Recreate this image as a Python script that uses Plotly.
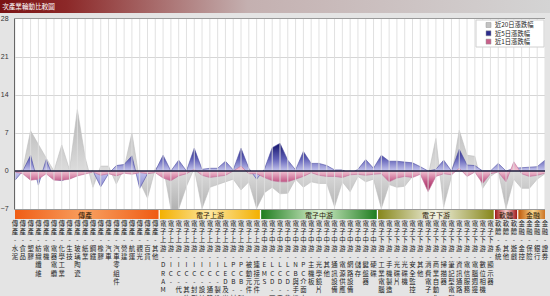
import plotly.graph_objects as go

# ---------------- data ----------------
group_names = ['傳產', '電子上游', '電子中游', '電子下游', '軟體', '金融']
sub_trad = ['水泥', '食品', '塑膠', '紡織纖維', '電機', '電器電纜', '化學工業', '生技', '玻璃陶瓷', '紙業',
            '鋼鐵', '橡膠', '汽車', '汽車零組件', '營建', '航運', '觀光', '百貨', '其他']
sub_up = ['DRAM', 'IC-', 'IC-代工', 'IC-其他', 'IC-封測', 'IC-設計', 'IC-通路', 'IC-製造',
          'LED及光元件', 'PCB-材料', 'PCB-製造', '被動元件', '連接元件']
sub_mid = ['EMS', 'LCD-面板', 'LCD-零組件', 'LCD-背光', 'NB與手機', 'PC介面卡', '主機板', '光學鏡片',
           '其他', '通訊設備', '電源供應', '網路設備', '儲存', '鍵盤器', '硬碟']
sub_down = ['工業電腦', '手機製造', '光碟片', '光碟機', '安全監控', '其他', '消費電子', '商業自動化',
            '掃描器', '筆記型電腦', '資訊通路', '電信服務', '電腦週邊', '數位相機', '顯示器']
sub_soft = ['系統', '其他', '遊戲']
sub_fin = ['金控', '保險', '銀行', '證券']
subs = [sub_trad, sub_up, sub_mid, sub_down, sub_soft, sub_fin]

series_names = ['近20日漲跌幅', '近5日漲跌幅', '近1日漲跌幅']

chg20 = [-0.5, 0.3, 7.4, 4.8, 2.4, 0.0, 4.8, 0.2, 11.3, 2.5, -3.0, 0.9, 0.9, -2.4, 0.5, 7.0, -2.0, -5.0, 0.5,
         1.0, -7.0, -7.0, -2.8, 0.5, -6.9, -3.0, -2.5, -2.0, -1.5, -3.5, -2.0, -6.9,
         -4.0, -3.0, -4.2, -4.1, -1.5, -3.0, -2.0, -2.3, -2.3, -6.6, -2.0, -3.8, -1.0, -2.0, -1.5,
         -6.9, -2.5, -3.0, -2.8, -1.0, 0.5, -1.0, 6.0, -6.6, -1.0, 7.5, 2.9, 2.7, -3.2, -1.0,
         0.0, -6.9, -1.5,
         -3.2, -3.2, -1.5, -0.5]
chg5 = [-1.7, 0.0, 2.9, -2.6, 2.1, -1.5, -1.8, -1.2, -0.5, -0.3, 0.0, -2.9, -0.5, 1.0, 1.2, 2.8, -3.2, -0.5, 0.0,
        2.9, 0.0, 2.0, 0.0, 4.2, 0.3, 0.5, 0.5, 1.8, 0.2, 4.2, 0.5, -1.5,
        0.3, 4.3, 5.1, 2.0, 0.2, 3.6, 1.4, 1.4, 1.0, 0.2, 0.2, -0.5, 0.3, 2.1, 0.5,
        2.9, 1.8, 1.8, 1.6, 1.5, 0.8, 0.0, 0.3, 2.0, 0.0, 4.0, 1.1, 1.0, 0.0, 0.0,
        1.4, 0.0, 0.5,
        0.6, 0.6, 0.8, 2.0]
chg1 = [-0.2, -0.5, -1.7, -1.5, -0.5, -1.7, -1.7, -1.5, -0.9, -0.6, -0.2, -0.8, -0.5, -0.9, -0.4, -0.6, -0.3, -0.5, -0.3,
        -1.3, -1.8, -0.9, -0.5, 0.3, -0.8, -1.2, -1.0, -0.8, 0.0, 0.9, -0.5, -0.5,
        -1.2, -1.8, -2.0, -2.0, -1.5, -1.0, -0.3, -0.8, -1.0, -1.0, -1.2, -0.7, -0.6, -0.8, -0.6,
        -0.5, -2.0, -1.3, -1.0, -1.2, -0.6, -3.8, -1.0, -0.5, -0.7, 0.5, -1.0, -0.2, -2.3, -0.5,
        -0.2, -2.0, 1.7,
        -0.5, -1.0, -0.8, -0.4]

y_ticks = [-7, 0, 7, 14, 21, 28]
title_text = '次產業輪動比較圖'

# ---------------- derived ----------------
categories = []
cat_group = []
for g, lst in zip(group_names, subs):
    for s in lst:
        categories.append(g + '-' + s)
        cat_group.append(g)
idx = list(range(len(categories)))
tick_text = ['<br>'.join(list(c)) for c in categories]

W, H = 550, 296
PL, PR, PT, PB = 15, 545, 19, 209
FONT = 'Noto Sans CJK TC'

fig = go.Figure()

# area series
styles = [
    dict(start=-7, stop=12, cs=[[0, '#b2b2b2'], [0.368, '#dcdcdc'], [1, '#b0b0b0']], line='#bdbdbd'),
    dict(start=-5, stop=5, cs=[[0, '#6464c4'], [0.5, '#c6c6ee'], [0.72, '#6262b8'], [1, '#12126a']], line='#4a4aa0'),
    dict(start=-4, stop=2, cs=[[0, '#9a1850'], [0.35, '#c45a88'], [0.667, '#f2c4d4'], [1, '#e08cb0']], line='#c0709a'),
]
for name, vals, st in zip(series_names, [chg20, chg5, chg1], styles):
    fig.add_trace(go.Scatter(
        x=idx, y=vals, name=name, mode='lines', fill='tozeroy',
        line=dict(color=st['line'], width=0.6),
        fillgradient=dict(type='vertical', start=st['start'], stop=st['stop'], colorscale=st['cs']),
        showlegend=False, hoverinfo='x+y'))

# vertical grid lines drawn over the areas
gx, gy = [], []
for i in idx:
    gx += [i, i, None]
    gy += [y_ticks[0], y_ticks[-1], None]
fig.add_trace(go.Scatter(x=gx, y=gy, mode='lines', line=dict(color='rgba(222,222,222,0.9)', width=1),
                         hoverinfo='skip', showlegend=False))

# group bars under the plot
bar_styles = {
    '傳產': ('#ef5a12', '#f8a060'),
    '電子上游': ('#f3b000', '#fde6a0'),
    '電子中游': ('#1f7d1f', '#d6efcc'),
    '電子下游': ('#86861a', '#f2f2e2'),
    '軟體': ('#a01818', '#f2caca'),
    '金融': ('#c05808', '#f8d890'),
}
for g in group_names:
    members = [i for i, cg in zip(idx, cat_group) if cg == g]
    a, b = members[0] - 0.42, members[-1] + 0.42
    edge, mid = bar_styles[g]
    fig.add_trace(go.Scatter(
        x=[a, b, b, a, a], y=[0, 0, 1, 1, 0], xaxis='x', yaxis='y2', mode='lines', fill='toself',
        line=dict(width=0, color=edge),
        fillgradient=dict(type='horizontal', colorscale=[[0, edge], [0.5, mid], [1, edge]]),
        hoverinfo='skip', showlegend=False))
    fig.add_annotation(x=(members[0] + members[-1]) / 2, y=0.5, xref='x', yref='y2', text=g,
                       showarrow=False, font=dict(family=FONT, size=7, color='#2a1a0a'))

# title bar
fig.add_trace(go.Scatter(
    x=[0, 1, 1, 0, 0], y=[0, 0, 1, 1, 0], xaxis='x3', yaxis='y3', mode='lines', fill='toself',
    line=dict(width=0, color='#7d1416'),
    fillgradient=dict(type='horizontal', colorscale=[[0, '#7a1214'], [0.12, '#8c2828'], [0.45, '#c4b0b0'], [1, '#d4d4d4']]),
    hoverinfo='skip', showlegend=False))

# zero line
fig.add_shape(type='line', xref='x domain', yref='y', x0=0, x1=1, y0=0, y1=0,
              line=dict(color='#1c1c3c', width=1.5), layer='above')

# manual legend (inside top-right)
leg_colors = ['#c2c2c2', '#2c2c8c', '#c8608a']
lx0, lx1, ly0 = 476, 544, 20
fig.add_shape(type='rect', xref='paper', yref='paper',
              x0=lx0 / W, x1=lx1 / W, y0=1 - (ly0 + 27) / H, y1=1 - ly0 / H,
              fillcolor='white', line=dict(color='#d0d0d0', width=1), layer='above')
for k, (nm, col) in enumerate(zip(series_names, leg_colors)):
    cy = ly0 + 5 + k * 8.3
    fig.add_shape(type='rect', xref='paper', yref='paper',
                  x0=486 / W, x1=491 / W, y0=1 - (cy + 2.5) / H, y1=1 - (cy - 2.5) / H,
                  fillcolor=col, line=dict(color='#999999', width=0.5), layer='above')
    fig.add_annotation(x=493 / W, y=1 - cy / H, xref='paper', yref='paper', text=nm, showarrow=False,
                       xanchor='left', yanchor='middle', font=dict(family=FONT, size=6.3, color='#222222'))

fig.update_layout(
    width=W, height=H, margin=dict(l=0, r=0, t=0, b=0), template='none',
    paper_bgcolor='#e4e4e4', plot_bgcolor='white', showlegend=False,
    title=dict(text=title_text, x=0.004, xanchor='left', y=1 - 6.5 / H, yanchor='middle',
               font=dict(family=FONT, size=6.6, color='white')),
    xaxis=dict(domain=[PL / W, PR / W], range=[idx[0], idx[-1]], tickvals=idx, ticktext=tick_text,
               tickangle=0, tickfont=dict(family=FONT, size=6.4, color='#222222'),
               ticks='outside', ticklen=8, tickcolor='rgba(0,0,0,0)', showgrid=False, zeroline=False,
               showline=True, linecolor='#9a9a9a', linewidth=1, mirror=True, automargin=False, fixedrange=True),
    yaxis=dict(domain=[1 - PB / H, 1 - PT / H], range=[y_ticks[0], y_ticks[-1]], tickvals=y_ticks,
               tickfont=dict(family='Liberation Sans', size=7, color='#333333'), ticks='', ticklabelstandoff=4,
               showgrid=True, gridcolor='#d6d6d6', gridwidth=1, zeroline=False,
               showline=True, linecolor='#666666', linewidth=1, automargin=False, fixedrange=True),
    yaxis2=dict(domain=[1 - 219 / H, 1 - 210 / H], range=[0, 1], anchor='x', visible=False, fixedrange=True),
    xaxis3=dict(domain=[0, 1], range=[0, 1], anchor='y3', visible=False, fixedrange=True),
    yaxis3=dict(domain=[1 - 13 / H, 1], range=[0, 1], anchor='x3', visible=False, fixedrange=True),
)

fig.write_html('out.html')
